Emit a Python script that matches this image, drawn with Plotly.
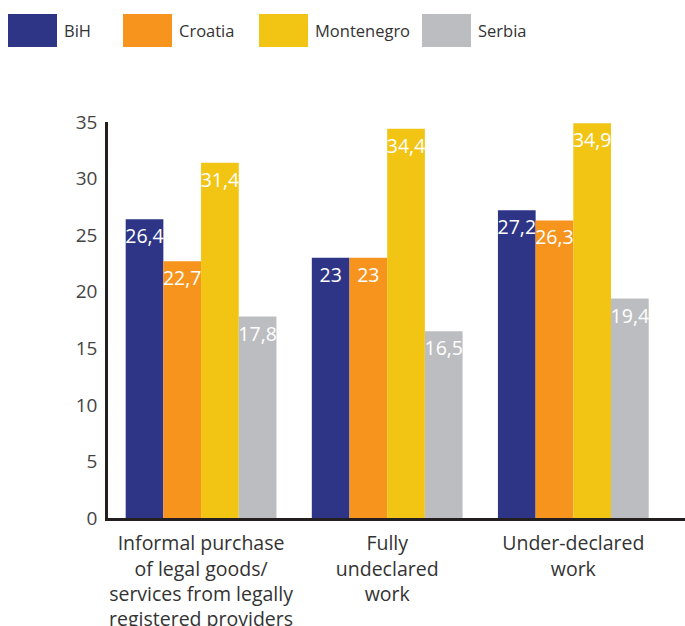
import plotly.graph_objects as go

categories = [
    "Informal purchase<br>of legal goods/<br>services from legally<br>registered providers",
    "Fully<br>undeclared<br>work",
    "Under-declared<br>work",
]
series_names = ["BiH", "Croatia", "Montenegro", "Serbia"]
bih = [26.4, 23, 27.2]
croatia = [22.7, 23, 26.3]
montenegro = [31.4, 34.4, 34.9]
serbia = [17.8, 16.5, 19.4]
y_ticks = [0, 5, 10, 15, 20, 25, 30, 35]

colors = ["#2E3587", "#F7941E", "#F2C515", "#BCBDC0"]
values = [bih, croatia, montenegro, serbia]

FONT = "Open Sans"
W, H = 685, 626
ML, MR, MT, MB = 108, 0, 122, 108
PW, PH = W - ML - MR, H - MT - MB


def fmt(v):
    s = ("%g" % v).replace(".", ",")
    return s


fig = go.Figure()
for name, vals, col in zip(series_names, values, colors):
    fig.add_trace(go.Bar(
        x=categories, y=vals, name=name, marker_color=col, marker_line_width=0,
        text=[fmt(v) for v in vals], textposition="inside", insidetextanchor="end",
        textangle=0, constraintext="none",
        textfont=dict(family=FONT, size=19.5, color="white"),
        showlegend=False, hoverinfo="skip",
    ))

# custom legend with large colour boxes
leg_x = [8, 123, 259, 422]
for name, col, px in zip(series_names, colors, leg_x):
    x0 = (px - ML) / PW
    x1 = (px + 49 - ML) / PW
    y0 = (H - MB - 47) / PH
    y1 = (H - MB - 14) / PH
    fig.add_shape(type="rect", xref="paper", yref="paper", x0=x0, x1=x1, y0=y0, y1=y1,
                  fillcolor=col, line_width=0)
    fig.add_annotation(xref="paper", yref="paper", x=(px + 54 - ML) / PW, y=(y0 + y1) / 2,
                       text=name, showarrow=False, xanchor="left", yanchor="middle",
                       font=dict(family=FONT, size=16.5, color="#333333"))

fig.update_layout(
    width=W, height=H,
    margin=dict(l=ML, r=MR, t=MT, b=MB, pad=0),
    paper_bgcolor="white", plot_bgcolor="white",
    barmode="group", bargap=0.19, bargroupgap=0,
    uniformtext=dict(minsize=19.5, mode="show"),
    font=dict(family=FONT, color="#333333"),
    showlegend=False,
)
fig.update_xaxes(
    range=[-0.5, 2.6], showline=True, linecolor="#231F20", linewidth=2.5,
    showgrid=False, ticks="", tickfont=dict(family=FONT, size=19.5, color="#333333"),
    ticklabelstandoff=6, zeroline=False, automargin=False,
)
fig.update_yaxes(
    range=[0, 35], tickvals=y_ticks, showline=True, linecolor="#231F20", linewidth=2.5,
    showgrid=False, ticks="", zeroline=False, automargin=False,
    tickfont=dict(family=FONT, size=19, color="#444444"), ticklabelstandoff=4,
)

fig.write_html("out.html")
